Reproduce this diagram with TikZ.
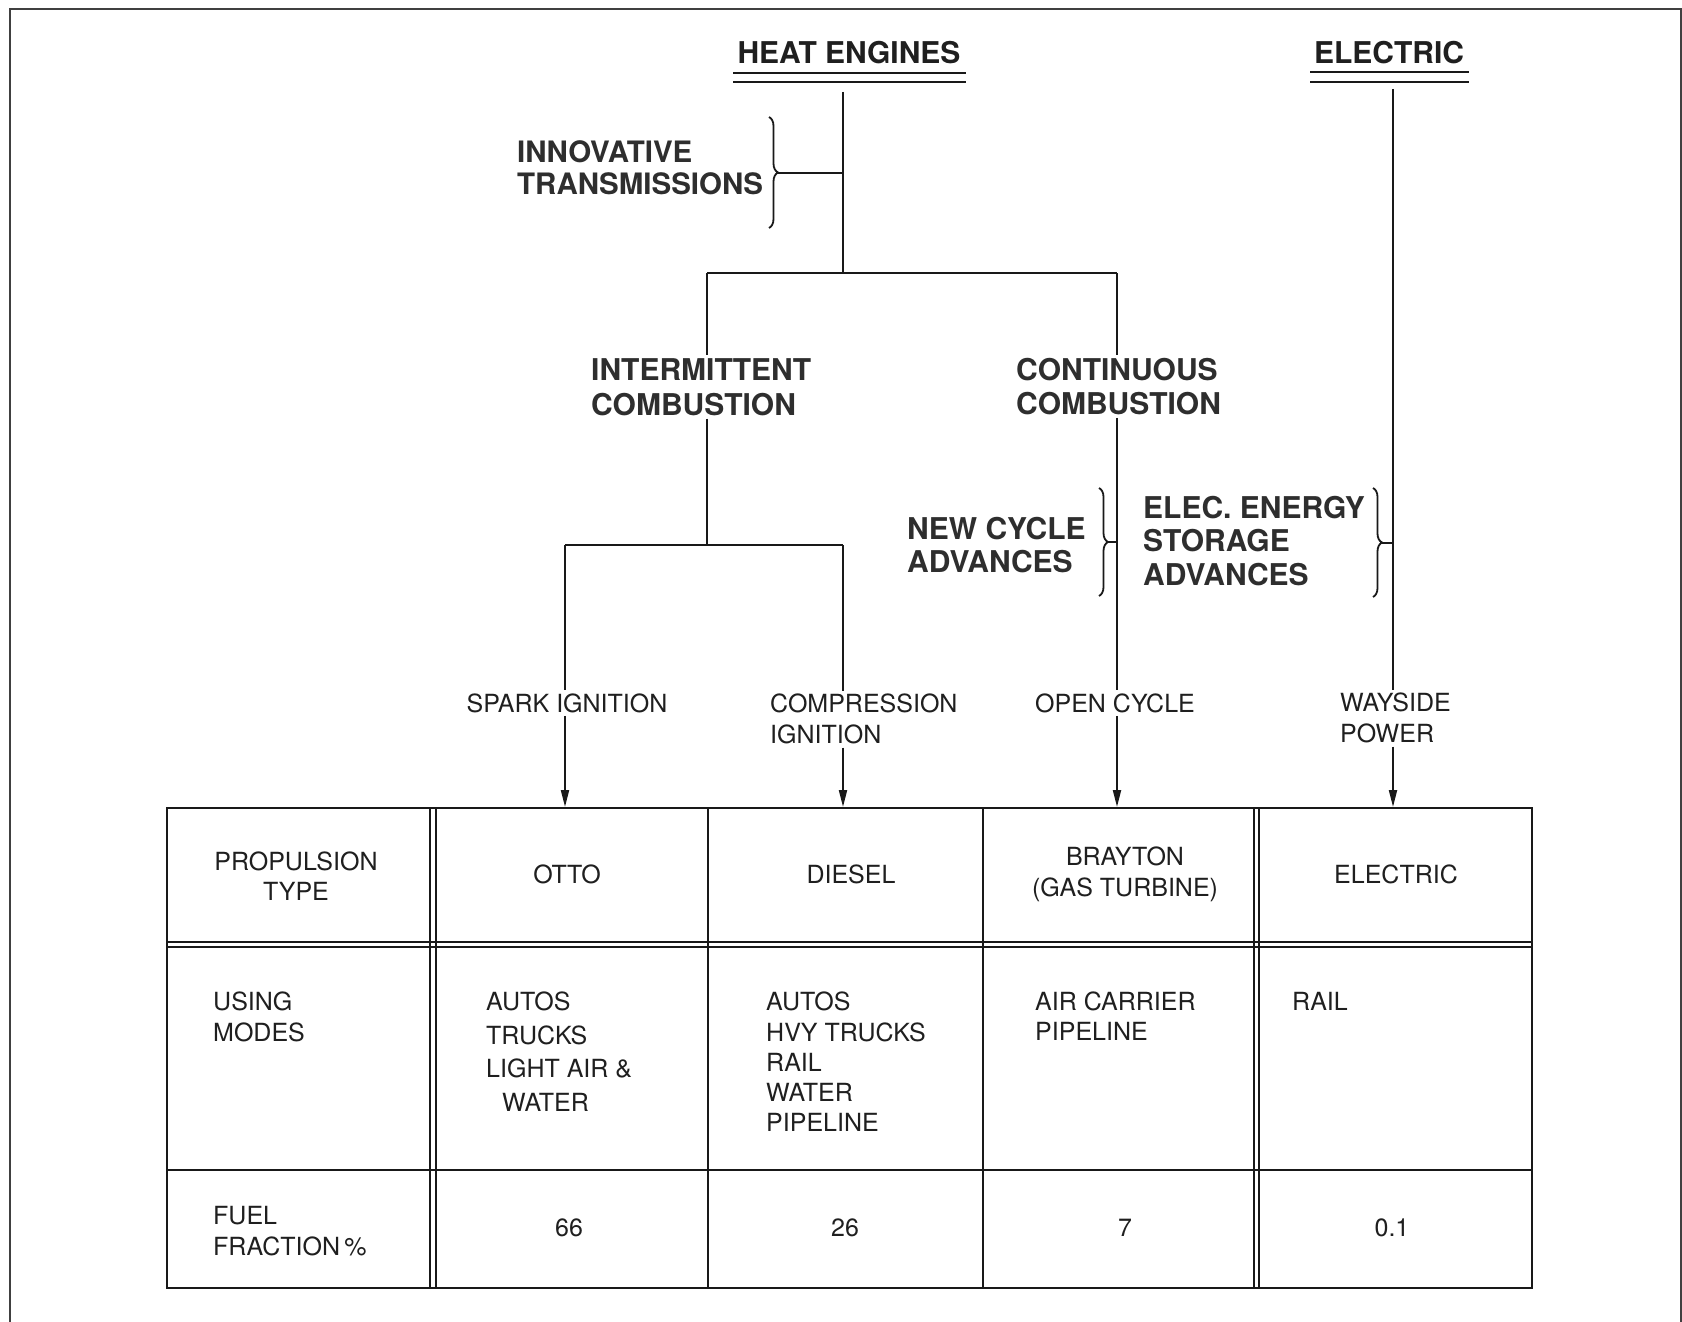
\documentclass[tikz,border=0pt]{standalone}
\usepackage{fontspec}
\setmainfont{TeX Gyre Heros}
\usetikzlibrary{arrows.meta,decorations.pathreplacing}
\begin{document}
\begin{tikzpicture}[x=1pt,y=-1pt,
  ln/.style={line width=2pt, draw=black!90},
  tbline/.style={line width=2.4pt, draw=black!90},
  arr/.style={ln, -{Triangle[length=17pt,width=8pt]}},
  brc/.style={line width=1.8pt, draw=black!90, decorate, decoration={brace, amplitude=9pt}},
  bigl/.style={inner sep=3pt, text=black!82, font={\bfseries\fontsize{30}{33}\selectfont}, align=left},
  smll/.style={inner sep=3pt, text=black!88, font={\fontsize{25}{31}\selectfont}, align=left},
  smlc/.style={smll, align=center}
]
\useasboundingbox (0,0) rectangle (1682,1322);
\fill[white] (0,0) rectangle (1682,1322);
% frame
\draw[line width=2pt, draw=black!75] (10,1330) -- (10,9) -- (1681,9) -- (1681,1330);

% top headings
\node[bigl, text=black!88] (heat) at (849,53) {HEAT ENGINES};
\node[bigl, text=black!88] (elec) at (1389,53) {ELECTRIC};
\draw[ln] (733,73) -- (966,73);
\draw[ln] (733,82) -- (966,82);
\draw[ln] (1310,72) -- (1469,72);
\draw[ln] (1310,82) -- (1469,82);

% labels
\node[bigl, anchor=north west, font={\bfseries\fontsize{29.5}{32}\selectfont}] (innov) at (514,137) {INNOVATIVE\\TRANSMISSIONS};
\node[bigl, anchor=north west, font={\bfseries\fontsize{30}{35}\selectfont}] (inter) at (588,355) {INTERMITTENT\\COMBUSTION};
\node[bigl, anchor=north west, font={\bfseries\fontsize{30}{34}\selectfont}] (cont) at (1013,355) {CONTINUOUS\\COMBUSTION};
\node[bigl, anchor=north west] (newc) at (904,514) {NEW CYCLE\\ADVANCES};
\node[bigl, anchor=north west, font={\bfseries\fontsize{30}{33.5}\selectfont}] (eesa) at (1140,493) {ELEC. ENERGY\\STORAGE\\ADVANCES};

\node[smll] (spark) at (567,703) {SPARK IGNITION};
\node[smll, anchor=north west] (comp) at (767,691) {COMPRESSION\\IGNITION};
\node[smll] (open) at (1115,703) {OPEN CYCLE};
\node[smll, anchor=north west] (way) at (1337,690) {WAYSIDE\\POWER};

% table
\node[tbline, draw, anchor=north west, inner sep=0pt, minimum width=1365pt, minimum height=480pt] (tbl) at (166,807) {};
\draw[tbline] (430,807) -- (430,1287);
\draw[tbline] (436,807) -- (436,1287);
\draw[tbline] (708,807) -- (708,1287);
\draw[tbline] (983,807) -- (983,1287);
\draw[tbline] (1254,807) -- (1254,1287);
\draw[tbline] (1259,807) -- (1259,1287);
\draw[tbline] (166,942) -- (1531,942);
\draw[tbline] (166,947) -- (1531,947);
\draw[tbline] (166,1170) -- (1531,1170);

\node[smlc, font={\fontsize{25}{30}\selectfont}] (prop) at (296,876) {PROPULSION\\TYPE};
\node[smlc] (otto) at (567,874) {OTTO};
\node[smlc] (diesel) at (851,874) {DIESEL};
\node[smlc] (bray) at (1125,874) {BRAYTON\\(GAS TURBINE)};
\node[smlc] (elct) at (1396,874) {ELECTRIC};

\node[smll, anchor=north west] (using) at (210,989) {USING\\MODES};
\node[smll, anchor=north west, font={\fontsize{25}{33.5}\selectfont}] (om) at (483,989) {AUTOS\\TRUCKS\\LIGHT AIR \&\\\hspace*{16pt}WATER};
\node[smll, anchor=north west, font={\fontsize{25}{30.2}\selectfont}] (dm) at (763,989) {AUTOS\\HVY TRUCKS\\RAIL\\WATER\\PIPELINE};
\node[smll, anchor=north west, font={\fontsize{25}{30}\selectfont}] (bm) at (1032,989) {AIR CARRIER\\PIPELINE};
\node[smll, anchor=north west] (em) at (1289,989) {RAIL};

\node[smll, anchor=north west] (fuel) at (210,1203) {FUEL\\FRACTION\,\%};
\node[smlc] (f1) at (569,1228) {66};
\node[smlc] (f2) at (845,1228) {26};
\node[smlc] (f3) at (1125,1228) {7};
\node[smlc] (f4) at (1392,1228) {0.1};

% junction coordinates
\coordinate (h0) at (843,92);
\coordinate (hj) at (843,273);
\coordinate (bl) at (707,273);
\coordinate (br) at (1117,273);
\coordinate (ij) at (707,545);
\coordinate (sl) at (565,545);
\coordinate (sr) at (843,545);
\coordinate (e0) at (1393,89);

% connectors
\draw[ln] (h0) -- (hj);
\draw[ln] (bl) -- (br);
\draw[ln] (bl) -- (bl |- inter.north);
\draw[ln] (bl |- inter.south) -- (ij);
\draw[ln] (sl) -- (sr);
\draw[ln] (sl) -- (sl |- spark.north);
\draw[arr] (sl |- spark.south) -- (sl |- tbl.north);
\draw[ln] (sr) -- (sr |- comp.north);
\draw[arr] (sr |- comp.south) -- (sr |- tbl.north);
\draw[ln] (br) -- (br |- cont.north);
\draw[ln] (br |- cont.south) -- (br |- open.north);
\draw[arr] (br |- open.south) -- (br |- tbl.north);
\draw[ln] (e0) -- (e0 |- way.north);
\draw[arr] (e0 |- way.south) -- (e0 |- tbl.north);

% braces
\draw[brc] (769,117) -- (769,228);
\coordinate (t1) at (778,173);
\draw[ln] (t1) -- (t1 -| h0);
\draw[brc] (1099,488) -- (1099,596);
\coordinate (t2) at (1108,542);
\draw[ln] (t2) -- (t2 -| br);
\draw[brc] (1373,488) -- (1373,597);
\coordinate (t3) at (1382,542.5);
\draw[ln] (t3) -- (t3 -| e0);
\end{tikzpicture}
\end{document}
